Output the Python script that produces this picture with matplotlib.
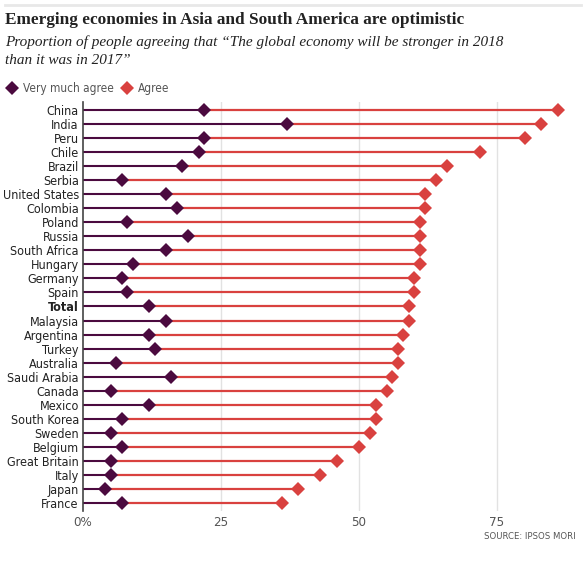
import numpy as np
import matplotlib
matplotlib.use("Agg")
import matplotlib.pyplot as plt
from matplotlib.lines import Line2D

countries = ["China", "India", "Peru", "Chile", "Brazil", "Serbia", "United States",
             "Colombia", "Poland", "Russia", "South Africa", "Hungary", "Germany",
             "Spain", "Total", "Malaysia", "Argentina", "Turkey", "Australia",
             "Saudi Arabia", "Canada", "Mexico", "South Korea", "Sweden", "Belgium",
             "Great Britain", "Italy", "Japan", "France"]
very_much = [22, 37, 22, 21, 18, 7, 15, 17, 8, 19, 15, 9, 7, 8, 12, 15, 12, 13, 6,
             16, 5, 12, 7, 5, 7, 5, 5, 4, 7]
agree = [86, 83, 80, 72, 66, 64, 62, 62, 61, 61, 61, 61, 60, 60, 59, 59, 58, 57, 57,
         56, 55, 53, 53, 52, 50, 46, 43, 39, 36]
xticks = [0, 25, 50, 75]
xtick_labels = ["0%", "25", "50", "75"]

purple = "#4b0a3f"
red = "#d9413f"
grey_text = "#555555"
serif = ["Liberation Serif", "DejaVu Serif"]
cond = dict(family="DejaVu Sans", stretch="condensed")

fig = plt.figure(figsize=(5.86, 5.61), dpi=100)
ax = fig.add_axes([0.1416, 0.0884, 0.829, 0.7306])

y = np.arange(len(countries))
for i in range(len(countries)):
    ax.plot([0, very_much[i]], [y[i], y[i]], color=purple, lw=1.5, zorder=2)
    ax.plot([very_much[i], agree[i]], [y[i], y[i]], color=red, lw=1.6, zorder=2)
ax.plot(agree, y, "D", color=red, ms=7.2, mew=0, zorder=3)
ax.plot(very_much, y, "D", color=purple, ms=7.2, mew=0, zorder=4)

ax.set_ylim(len(countries) - 0.4, -0.6)
ax.set_xlim(0, 88)
ax.set_yticks(y)
ax.set_yticklabels(countries, fontsize=9, color="#222222", **cond)
for lab in ax.get_yticklabels():
    if lab.get_text() == "Total":
        lab.set_fontweight("bold")
ax.set_xticks(xticks)
ax.set_xticklabels(xtick_labels, fontsize=9.5, color=grey_text, **cond)
ax.tick_params(axis="both", length=0, pad=3)

for v in xticks[1:]:
    ax.axvline(v, color="#e2e2e2", lw=1, zorder=1)
for s in ["top", "right", "bottom"]:
    ax.spines[s].set_visible(False)
ax.spines["left"].set_color("#444444")
ax.spines["left"].set_linewidth(1.2)

# header
fig.add_artist(Line2D([0.008, 0.992], [0.991, 0.991], color="#e8e8e8", lw=2))
fig.text(0.009, 0.964, "Emerging economies in Asia and South America are optimistic",
         fontsize=12.4, fontweight="bold", family=serif, color="#222222", va="center")
fig.text(0.009, 0.925, "Proportion of people agreeing that \u201cThe global economy will be stronger in 2018",
         fontsize=11, style="italic", family=serif, color="#222222", va="center")
fig.text(0.009, 0.892, "than it was in 2017\u201d",
         fontsize=11, style="italic", family=serif, color="#222222", va="center")

# legend
fig.add_artist(Line2D([0.021], [0.843], marker="D", ms=7.2, color=purple, mew=0))
fig.text(0.040, 0.843, "Very much agree", fontsize=8.5, color=grey_text, va="center", **cond)
fig.add_artist(Line2D([0.216], [0.843], marker="D", ms=7.2, color=red, mew=0))
fig.text(0.235, 0.843, "Agree", fontsize=8.5, color=grey_text, va="center", **cond)

fig.text(0.982, 0.044, "SOURCE: IPSOS MORI", fontsize=6.8, color=grey_text,
         ha="right", va="center", **cond)

fig.savefig("out.png", dpi=100)
